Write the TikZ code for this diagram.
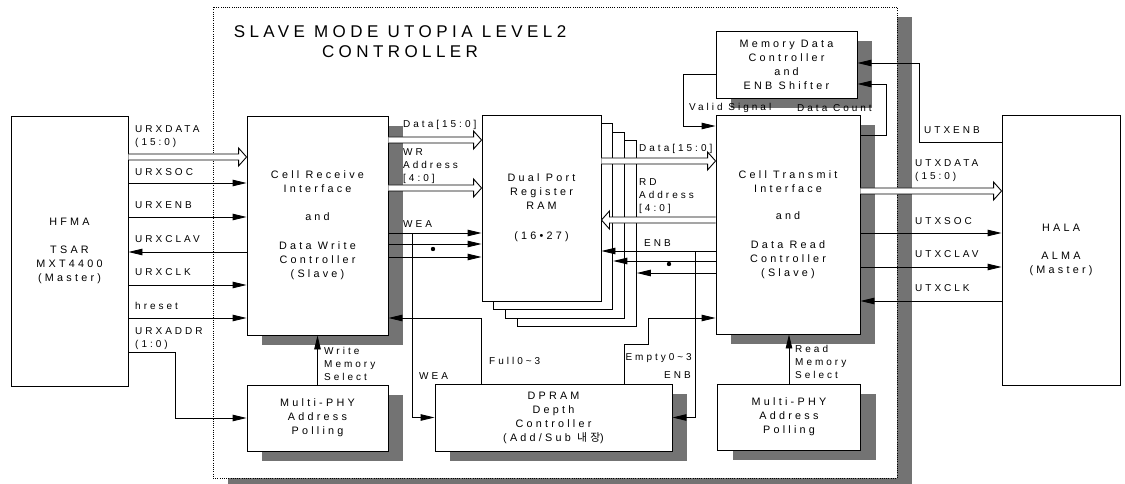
\documentclass[tikz,border=0pt]{standalone}
\usepackage{fontspec}
\setmainfont{Liberation Sans}[LetterSpace=30]
\newfontfamily\titlefam{Liberation Sans}[LetterSpace=26]
\newfontfamily\krfont{Noto Sans CJK KR}[LetterSpace=30]
\usetikzlibrary{arrows.meta,shadows,calc}

\tikzset{
  blk/.style={draw, fill=white, line width=0.9pt, inner sep=0pt, align=center,
    font=\fontsize{10.8}{14}\selectfont},
  shd/.style={drop shadow={shadow xshift=15pt, shadow yshift=-10pt, fill=black!55, opacity=1}},
  lbl/.style={inner sep=0pt, anchor=west, align=left, font=\fontsize{10}{13}\selectfont},
  sig/.style={line width=0.9pt, -{Triangle[length=14pt,width=6.5pt]}},
  bus/.style={draw, fill=white, line width=0.9pt},
}

% hollow bus arrow from #1 to #2 (same height)
\newcommand\busarrow[2]{%
  \path[bus] let \p1=(#1), \p2=(#2), \n1={sign(\x2-\x1)} in
    (\x1,\y1+3) -- (\x2-8*\n1,\y1+3) -- (\x2-8*\n1,\y1+9) -- (\x2,\y1)
    -- (\x2-8*\n1,\y1-9) -- (\x2-8*\n1,\y1-3) -- (\x1,\y1-3);}

\begin{document}
\begin{tikzpicture}[x=1pt, y=1pt]
\useasboundingbox (0,0) rectangle (1125,-484);

% controller frame
\node[draw, dash pattern=on 1pt off 1.2pt, line width=0.8pt, fill=white, shd, minimum width=684, minimum height=471] (ctrl) at (555,-242.5) {};
\node[font=\titlefam\fontsize{17}{20}\selectfont, align=center] (title) at (400,-42) {SLAVE MODE UTOPIA LEVEL2\\CONTROLLER};

% blocks
\node[blk, shd, minimum width=141, minimum height=67] (memd) at (786.5,-64.5) {Memory Data\\Controller\\and\\ENB Shifter};
\node[blk, shd, minimum width=141, minimum height=219] (crx) at (317.5,-225.5) {Cell Receive\\Interface\\[14pt]and\\[15pt]Data Write\\Controller\\(Slave)};
\node[blk, shd, minimum width=144, minimum height=219] (ctx) at (788,-224.5) {Cell Transmit\\Interface\\[13pt]and\\[15pt]Data Read\\Controller\\(Slave)};
\node[blk, shd, minimum width=141, minimum height=66] (mpl) at (317.5,-418) {Multi-PHY\\Address\\Polling};
\node[blk, shd, minimum width=143, minimum height=66] (mpr) at (789,-417) {Multi-PHY\\Address\\Polling};
\node[blk, shd, minimum width=237, minimum height=67] (dpd) at (553.5,-417.5) {DPRAM\\Depth\\Controller\\(Add/Sub {\krfont 내장})};
\foreach \k in {3,2,1}
  \node[blk, minimum width=119, minimum height=186] (ram\k) at ({541.5+11.8*\k},{-208-8.5*\k}) {};
\node[blk, minimum width=119, minimum height=186] (ram) at (541.5,-208) {Dual Port\\Register\\RAM\\[16pt](16•27)};
\node[blk, minimum width=117, minimum height=270] (hfma) at (69.5,-251) {HFMA\\[14pt]TSAR\\MXT4400\\(Master)};
\node[blk, minimum width=118, minimum height=270] (hala) at (1061,-250) {HALA\\[14pt]ALMA\\(Master)};

% HFMA side
\busarrow{hfma.east |- 0,-157}{crx.west |- 0,-157}
\draw[sig] (hfma.east |- 0,-183) -- (crx.west |- 0,-183);
\draw[sig] (hfma.east |- 0,-217) -- (crx.west |- 0,-217);
\draw[sig] (crx.west |- 0,-252) -- (hfma.east |- 0,-252);
\draw[sig] (hfma.east |- 0,-285) -- (crx.west |- 0,-285);
\draw[sig] (hfma.east |- 0,-318) -- (crx.west |- 0,-318);
\draw[sig] (hfma.east |- 0,-352) -- (175,-352) |- (mpl.west);
\node[lbl] (l-urxdata) at (135,-137) {URXDATA\\(15:0)};
\node[lbl] (l-urxsoc) at (135,-172) {URXSOC};
\node[lbl] (l-urxenb) at (135,-205) {URXENB};
\node[lbl] (l-urxclav) at (135,-239) {URXCLAV};
\node[lbl] (l-urxclk) at (135,-272) {URXCLK};
\node[lbl] (l-hreset) at (135,-306) {hreset};
\node[lbl] (l-urxaddr) at (135,-339) {URXADDR\\(1:0)};

% write side of the RAM
\busarrow{crx.east |- 0,-140}{ram.west |- 0,-140}
\busarrow{crx.east |- 0,-188}{ram.west |- 0,-188}
\draw[sig] (crx.east |- 0,-233) -- (ram.west |- 0,-233);
\draw[sig] (crx.east |- 0,-244) -- (ram.west |- 0,-244);
\draw[sig] (crx.east |- 0,-257) -- (ram.west |- 0,-257);
\fill (433,-249) circle (2.2);
\coordinate (wea) at (412,-233);
\draw[sig] (wea) |- (dpd.west);
\draw[sig] (dpd.north -| ram.west) |- (crx.east |- 0,-318);
\draw[sig] (mpl.north) -- (crx.south);
\node[lbl] (l-wdata) at (403,-125) {Data[15:0]};
\node[lbl] (l-wraddr) at (403,-166) {WR\\Address\\{[4:0]}};
\node[lbl] (l-wea) at (403,-224) {WEA};
\node[lbl] (l-wea2) at (419,-376) {WEA};
\node[lbl] (l-full) at (489,-361) {Full0\textasciitilde3};
\node[lbl] (l-wsel) at (324,-364) {Write\\Memory\\Select};

% read side of the RAM
\busarrow{ram.east |- 0,-161}{ctx.west |- 0,-161}
\busarrow{ctx.west |- 0,-220}{ram.east |- 0,-220}
\draw[sig] (ctx.west |- 0,-251) -- (ram.east |- 0,-251);
\draw[sig] (ctx.west |- 0,-261) -- (ram1.east |- 0,-261);
\draw[sig] (ctx.west |- 0,-273) -- (ram3.east |- 0,-273);
\fill (669,-264) circle (2.2);
\coordinate (enb) at (695,-251);
\draw[sig] (enb) |- (dpd.east);
\draw[sig] (dpd.north -| 624,0) |- (648,-344) |- (ctx.west |- 0,-318);
\draw[sig] (mpr.north) -- (mpr.north |- ctx.south);
\node[lbl] (l-rdata) at (639,-149) {Data[15:0]};
\node[lbl] (l-rdaddr) at (639,-196) {RD\\Address\\{[4:0]}};
\node[lbl] (l-enb) at (644,-243) {ENB};
\node[lbl, anchor=east] (l-empty) at (692,-358) {Empty0\textasciitilde3};
\node[lbl, anchor=east] (l-enb2) at (691,-375) {ENB};
\node[lbl] (l-rsel) at (795,-362) {Read\\Memory\\Select};

% memory data controller
\draw[sig] (memd.west |- 0,-74) -- (683,-74) |- (ctx.west |- 0,-126);
\draw[sig] (ctx.east |- 0,-135) -- (886,-135) |- (memd.east |- 0,-84);
\draw[sig] (hala.west |- 0,-142) -- (919,-142) |- (memd.east |- 0,-63);
\node[lbl] (l-valid) at (689,-108) {Valid Signal};
\node[lbl] (l-count) at (797,-108) {Data Count};

% HALA side
\busarrow{ctx.east |- 0,-191}{hala.west |- 0,-191}
\draw[sig] (ctx.east |- 0,-233) -- (hala.west |- 0,-233);
\draw[sig] (ctx.east |- 0,-267) -- (hala.west |- 0,-267);
\draw[sig] (hala.west |- 0,-301) -- (ctx.east |- 0,-301);
\node[lbl] (l-utxenb) at (924,-130) {UTXENB};
\node[lbl] (l-utxdata) at (915,-171) {UTXDATA\\(15:0)};
\node[lbl] (l-utxsoc) at (915,-221) {UTXSOC};
\node[lbl] (l-utxclav) at (915,-254) {UTXCLAV};
\node[lbl] (l-utxclk) at (915,-288) {UTXCLK};
\end{tikzpicture}
\end{document}
